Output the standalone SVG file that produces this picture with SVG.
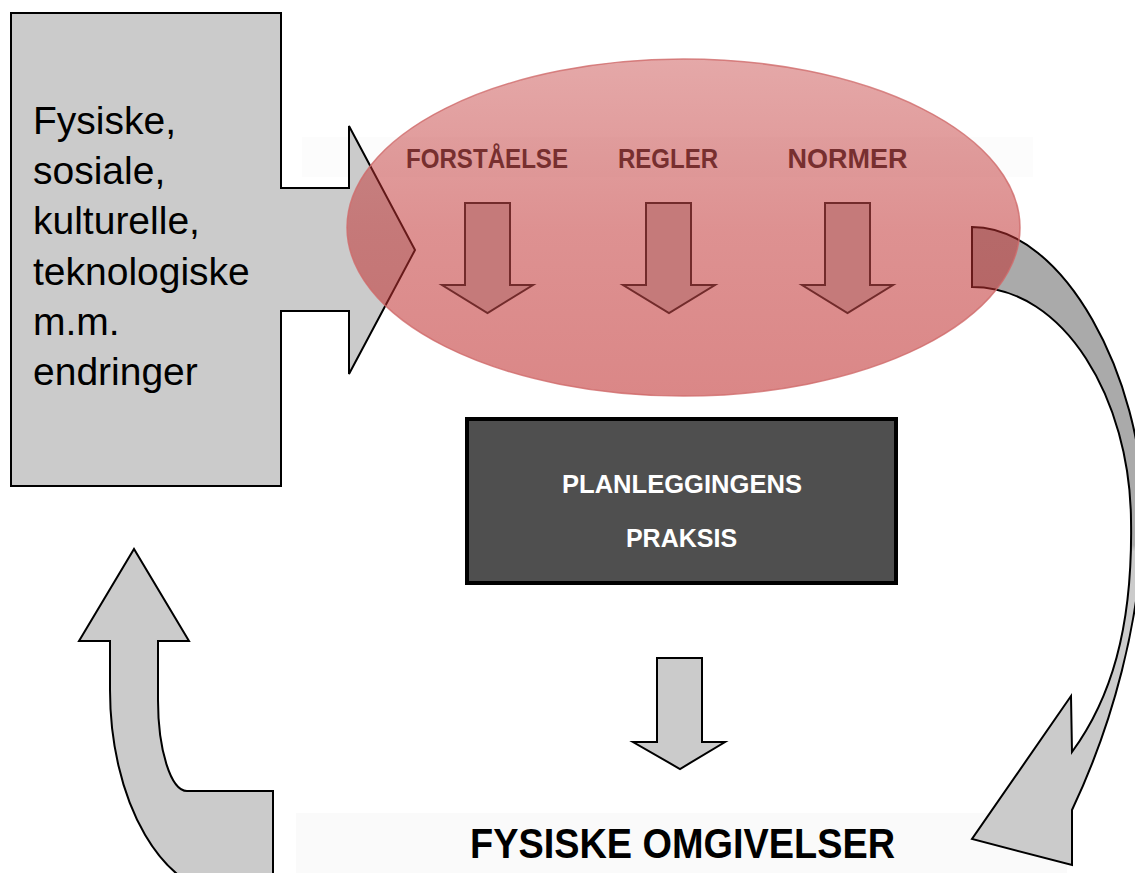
<svg xmlns="http://www.w3.org/2000/svg" width="1135" height="873" viewBox="0 0 1135 873">
<defs>
<linearGradient id="ellFill" x1="0" y1="0" x2="0" y2="1">
<stop offset="0" stop-color="#c03030" stop-opacity="0.42"/>
<stop offset="0.5" stop-color="#c03030" stop-opacity="0.53"/>
<stop offset="1" stop-color="#c03030" stop-opacity="0.58"/>
</linearGradient>
<linearGradient id="curveFill" gradientUnits="userSpaceOnUse" x1="0" y1="220" x2="0" y2="870">
<stop offset="0" stop-color="#aaaaaa"/>
<stop offset="0.5" stop-color="#aaaaaa"/>
<stop offset="0.51" stop-color="#cbcbcb"/>
<stop offset="1" stop-color="#cbcbcb"/>
</linearGradient>
<style>
.grey{fill:#cbcbcb;stroke:#000;stroke-width:2;stroke-linejoin:miter}
.redarrow{fill:#c57a7a;stroke:#722b2b;stroke-width:2}
.lbl{font-family:"Liberation Sans",Arial,sans-serif;font-weight:bold;fill:#772f2f;font-size:27.5px;text-anchor:middle}
.side{font-family:"Liberation Sans",Arial,sans-serif;font-size:39px;fill:#000}
.white{font-family:"Liberation Sans",Arial,sans-serif;font-weight:bold;fill:#fff;font-size:25px;text-anchor:middle}
.big{font-family:"Liberation Sans",Arial,sans-serif;font-weight:bold;fill:#000;font-size:42px;text-anchor:middle}
</style>
</defs>
<rect width="1135" height="873" fill="#fff"/>
<rect x="302" y="137" width="731" height="40" fill="#fcfcfc"/>
<rect x="296" y="813" width="771" height="60" fill="#fafafa"/>

<g id="changes">
<path class="grey" d="M11,13 H281 V188 H349 V126 L415,250 L349,374 V311 H281 V486 H11 Z"/>
<text class="side" x="33" y="134">Fysiske,</text>
<text class="side" x="33" y="184">sosiale,</text>
<text class="side" x="33" y="234">kulturelle,</text>
<text class="side" x="33" y="285">teknologiske</text>
<text class="side" x="33" y="335">m.m.</text>
<text class="side" x="33" y="385">endringer</text>
</g>

<g id="connectors">
<path id="curve-right" fill="url(#curveFill)" stroke="#000" stroke-width="2" d="M972,227 C1065,227 1143,380 1143,510 C1143,620 1110,730 1072,810 L1072,865 L972,839 L1071,696 L1072,752 C1110,700 1133,630 1131,520 C1130,400 1065,287 972,287 Z"/>
<path id="down-main" class="grey" d="M657,658 H702 V742 H725 L680,769 L633,742 H657 Z"/>
<path id="up-left" class="grey" d="M273,895 H230 A120,205 0 0 1 110,690 V641 H79 L134,549 L189,641 H158 V700 A29,91 0 0 0 187,791 H273 Z"/>
</g>

<g id="norms">
<ellipse cx="683.5" cy="227.5" rx="336.5" ry="168.5" fill="url(#ellFill)" stroke="#cf6a6a" stroke-width="1.5" stroke-opacity="0.8"/>
<text class="lbl" x="487" y="168" textLength="162" lengthAdjust="spacingAndGlyphs">FORSTÅELSE</text>
<text class="lbl" x="668" y="168" textLength="100" lengthAdjust="spacingAndGlyphs">REGLER</text>
<text class="lbl" x="847.5" y="168" textLength="120" lengthAdjust="spacingAndGlyphs">NORMER</text>
<path class="redarrow" d="M465,203 H510 V285 H533 L487.5,313 L442,285 H465 Z"/>
<path class="redarrow" d="M646,203 H691 V285 H715 L669,313 L623,285 H646 Z"/>
<path class="redarrow" d="M825,203 H870 V285 H893 L847.5,313 L802,285 H825 Z"/>
</g>

<g id="practice">
<rect x="467" y="419" width="429" height="164" fill="#4f4f4f" stroke="#000" stroke-width="4"/>
<text class="white" x="682" y="493" textLength="240" lengthAdjust="spacingAndGlyphs">PLANLEGGINGENS</text>
<text class="white" x="681.5" y="547">PRAKSIS</text>
</g>

<g id="surroundings">
<text class="big" x="682.5" y="858" textLength="425" lengthAdjust="spacingAndGlyphs">FYSISKE OMGIVELSER</text>
</g>
</svg>
